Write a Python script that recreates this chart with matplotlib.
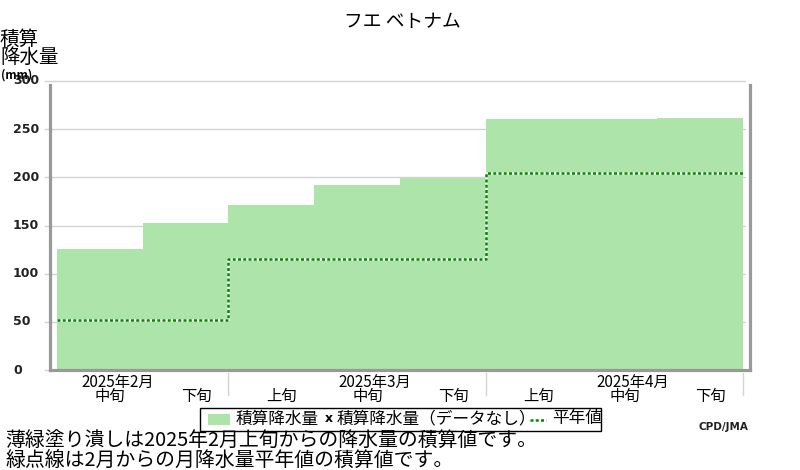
import numpy as np
import matplotlib
matplotlib.use('Agg')
import matplotlib.pyplot as plt
from matplotlib.patches import Rectangle
from matplotlib.lines import Line2D

plt.rcParams['font.family'] = ['Noto Sans CJK JP', 'DejaVu Sans']

title = 'フエ ベトナム'
dekads = ['中旬', '下旬', '上旬', '中旬', '下旬', '上旬', '中旬', '下旬']
months = ['2025年2月', '2025年3月', '2025年4月']
month_edges = [2, 5, 8]
# accumulated precipitation (mm) per dekad
precip = [126, 153, 171, 192, 199, 261, 261, 262]
# accumulated monthly normal (mm)
normal = [52, 52, 115, 115, 115, 204, 204, 204]
yticks = [0, 50, 100, 150, 200, 250, 300]

GREEN = '#ace4aa'
FRAME = '#999999'
GRID = '#d3d3d3'

fig = plt.figure(figsize=(8, 4.7), dpi=100)
W, H = 800, 470
ax = fig.add_axes([50 / W, 1 - 370 / H, 700 / W, 289 / H])
ax.set_xlim(-0.0816, 8.0816)
ax.set_ylim(0, 300)

x = np.arange(len(precip))
ax.bar(x, precip, width=1.0, align='edge', color=GREEN, linewidth=0, zorder=2)

# normal as step line (white under green dots)
xs = np.append(x, len(x))
ys = np.append(normal, normal[-1])
ax.step(xs, ys, where='post', color='white', lw=1.8, zorder=3)
ax.step(xs, ys, where='post', color='#008800', lw=1.8, ls=(0, (1.2, 0.9)), zorder=4)

# gridlines
dx = 5 / 85.75
for t in yticks:
    ax.plot([-0.0816 - dx, 8.0816 - dx], [t, t], color=GRID, lw=1, zorder=1, clip_on=False)
    ax.text(-37 / 700, t, str(t), transform=ax.get_yaxis_transform(), ha='left', va='center',
            fontsize=9, fontweight='bold', family='DejaVu Sans', color='#222222')

ax.spines['top'].set_visible(False)
for s in ['left', 'right', 'bottom']:
    ax.spines[s].set_color(FRAME)
    ax.spines[s].set_linewidth(2.3)
ax.spines['left'].set_bounds(0, 296)
ax.spines['right'].set_bounds(0, 296)
ax.set_xticks([])
ax.set_yticks([])

# month separators and labels
for e in month_edges:
    ax.plot([e, e], [-3, -26], color=GRID, lw=1, clip_on=False)
for i, m in enumerate(months):
    ax.text([0.71, 3.71, 6.72][i], -12.5, m, ha='center', va='center', fontsize=11, clip_on=False)
for i, d in enumerate(dekads):
    ax.text(i + 0.62, -27, d, ha='center', va='center', fontsize=11, clip_on=False)

fig.text(402 / W, 1 - 22 / H, title, ha='center', va='center', fontsize=13.5)
fig.text(0, 1 - 39 / H, '積算', ha='left', va='center', fontsize=14)
fig.text(0, 1 - 57 / H, '降水量', ha='left', va='center', fontsize=14)
fig.text(1 / W, 1 - 75 / H, '(mm)', ha='left', va='center', fontsize=8.5, fontweight='bold')

# legend drawn by hand
fig.add_artist(Rectangle((200 / W, 1 - 431 / H), 401 / W, 23 / H, transform=fig.transFigure,
                         facecolor='white', edgecolor='black', lw=1))
fig.add_artist(Rectangle((208 / W, 1 - 425 / H), 22 / W, 11 / H, transform=fig.transFigure,
                         facecolor=GREEN, edgecolor='none'))
fig.text(236 / W, 1 - 419 / H, '積算降水量', ha='left', va='center', fontsize=12)
fig.text(329 / W, 1 - 419 / H, 'x', ha='center', va='center', fontsize=9, fontweight='bold',
         family='DejaVu Sans')
fig.text(337 / W, 1 - 419 / H, '積算降水量（データなし）', ha='left', va='center', fontsize=12)
fig.add_artist(Line2D([530 / W, 546 / W], [1 - 420 / H, 1 - 420 / H], transform=fig.transFigure,
                      color='#008800', lw=1.8, ls=(0, (1.2, 0.9))))
fig.text(552 / W, 1 - 419 / H, '平年値', ha='left', va='center', fontsize=12)

fig.text(748 / W, 1 - 427 / H, 'CPD/JMA', ha='right', va='center', fontsize=7.5, fontweight='bold',
         family='DejaVu Sans', color='#222222')

fig.text(5 / W, 1 - 441 / H, '薄緑塗り潰しは2025年2月上旬からの降水量の積算値です。', ha='left', va='center', fontsize=14.3)
fig.text(5 / W, 1 - 460 / H, '緑点線は2月からの月降水量平年値の積算値です。', ha='left', va='center', fontsize=14.3)

fig.savefig('out.png', dpi=100)
